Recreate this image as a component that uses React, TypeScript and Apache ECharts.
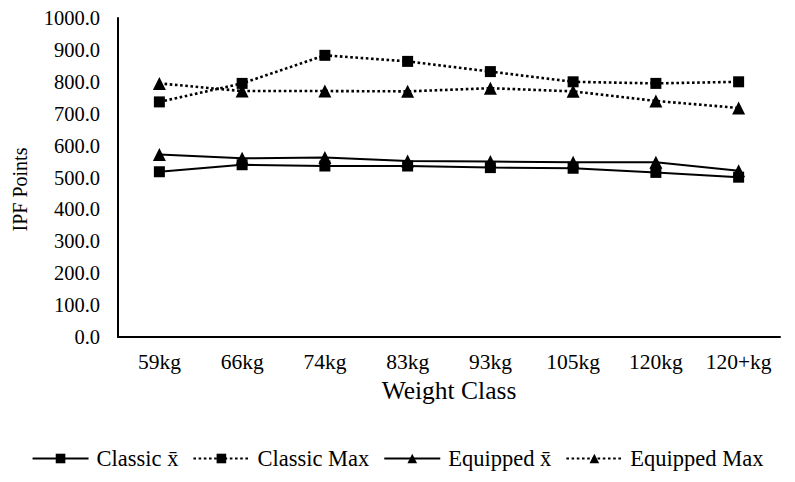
import React, { useEffect, useRef } from "react";
import * as echarts from "echarts";

const categories = ["59kg", "66kg", "74kg", "83kg", "93kg", "105kg", "120kg", "120+kg"];
const classicMean = [518, 540, 536, 536, 531, 529, 516, 501];
const classicMax = [737, 795, 883, 864, 832, 800, 795, 800];
const equippedMean = [572, 560, 563, 552, 550, 548, 548, 521];
const equippedMax = [795, 771, 771, 770, 780, 770, 740, 718];
const seriesNames = ["Classic x\u0304", "Classic Max", "Equipped x\u0304", "Equipped Max"];

const FONT = "'Liberation Serif', 'DejaVu Serif', serif";

export default function App() {
  const ref = useRef<HTMLDivElement>(null);
  useEffect(() => {
    if (!ref.current) return;
    const chart = echarts.init(ref.current, null, { renderer: "svg" });
    const solid = { color: "#000", width: 2, type: "solid" as const };
    const dotted = { color: "#000", width: 2.6, type: [2.6, 2.6] as any };
    const mk = (name: string, data: number[], symbol: string, size: number, ls: any) => ({
      name,
      type: "line",
      data,
      symbol,
      symbolSize: size,
      showSymbol: true,
      itemStyle: { color: "#000", borderWidth: 0 },
      lineStyle: ls,
      emphasis: { disabled: true },
    });
    chart.setOption({
      animation: false,
      textStyle: { fontFamily: FONT, color: "#000" },
      grid: { left: 118, right: 15, top: 18, bottom: 145, containLabel: false, outerBoundsMode: "none" },
      legend: {
        bottom: 7,
        left: "center",
        itemWidth: 56,
        itemHeight: 12,
        itemGap: 14,
        textStyle: { fontFamily: FONT, fontSize: 22.5, color: "#000", padding: [0, 0, 0, 3] },
        data: seriesNames,
      },
      xAxis: {
        type: "category",
        data: categories,
        boundaryGap: true,
        name: "Weight Class",
        nameLocation: "middle",
        nameGap: 32,
        nameTextStyle: { fontFamily: FONT, fontSize: 25.5, color: "#000" },
        axisLine: { lineStyle: { color: "#000", width: 2 } },
        axisTick: { show: false },
        axisLabel: { fontFamily: FONT, fontSize: 21.5, color: "#000", margin: 14, interval: 0 },
        splitLine: { show: false },
      },
      yAxis: {
        type: "value",
        min: 0,
        max: 1000,
        interval: 100,
        name: "IPF Points",
        nameLocation: "middle",
        nameGap: 88,
        nameRotate: 90,
        nameTextStyle: { fontFamily: FONT, fontSize: 20, color: "#000", padding: [0, 24, 0, 0] },
        axisLine: { show: true, lineStyle: { color: "#000", width: 2 } },
        axisTick: { show: false },
        splitLine: { show: false },
        axisLabel: {
          fontFamily: FONT,
          fontSize: 20.5,
          color: "#000",
          margin: 18,
          formatter: (v: number) => v.toFixed(1),
        },
      },
      series: [
        mk(seriesNames[0], classicMean, "rect", 11, solid),
        mk(seriesNames[1], classicMax, "rect", 11, dotted),
        mk(seriesNames[2], equippedMean, "triangle", 13, solid),
        mk(seriesNames[3], equippedMax, "triangle", 13, dotted),
      ],
    });
    return () => chart.dispose();
  }, []);
  return <div ref={ref} style={{ width: 795, height: 482, position: "absolute", left: 0, top: 0 }} />;
}
